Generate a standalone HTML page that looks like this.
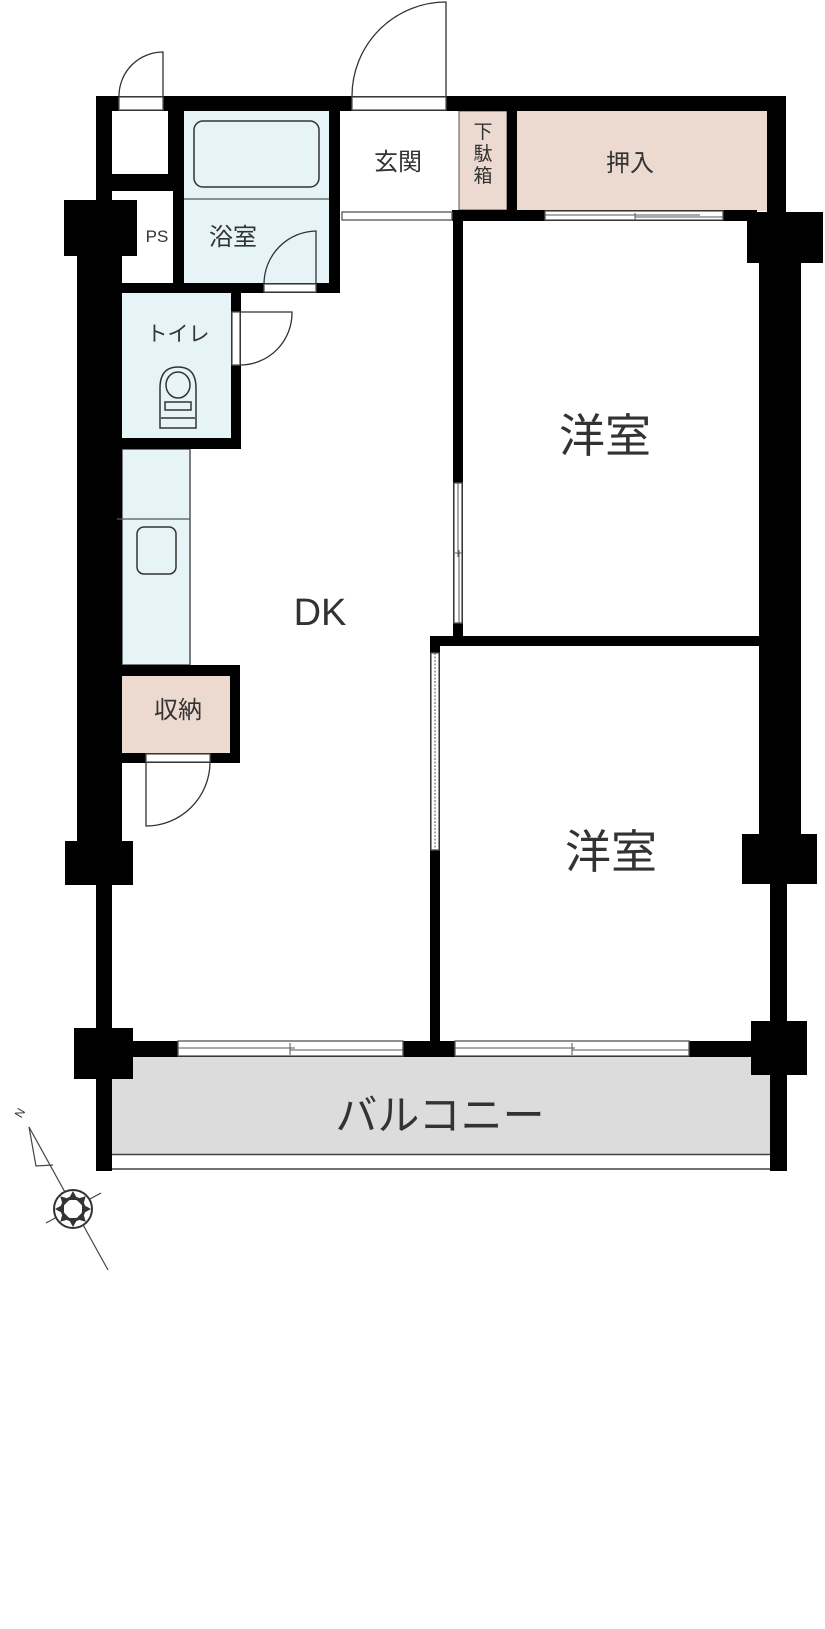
<!DOCTYPE html>
<html><head><meta charset="utf-8"><style>
html,body{margin:0;padding:0;background:#fff}
svg{display:block}
text{font-family:"Liberation Sans","Noto Sans CJK JP",sans-serif;fill:#333}
</style></head><body>
<svg width="825" height="1629" viewBox="0 0 825 1629" xmlns="http://www.w3.org/2000/svg">
<rect x="184" y="111" width="145" height="172" fill="#e6f4f8"/>
<rect x="122" y="293" width="109" height="145" fill="#e6f4f8"/>
<rect x="122" y="449" width="68" height="216" fill="#e6f4f8" stroke="#555" stroke-width="1.5"/>
<rect x="459" y="111" width="48" height="99" fill="#ecd9cf" stroke="#555" stroke-width="1"/>
<rect x="517" y="111" width="253" height="100" fill="#ecd9cf"/>
<rect x="122" y="676" width="108" height="77" fill="#ecd9cf"/>
<rect x="112" y="1057" width="658" height="97" fill="#dcdcdc"/>
<line x1="112" y1="1154.5" x2="770" y2="1154.5" stroke="#444" stroke-width="1.5"/>
<line x1="112" y1="1169" x2="770" y2="1169" stroke="#444" stroke-width="1.5"/>

<g fill="#000">
<rect x="96" y="96" width="690" height="15"/>
<rect x="767" y="96" width="19" height="116"/>
<rect x="96" y="96" width="16" height="160"/>
<rect x="112" y="174" width="61" height="17"/>
<rect x="168" y="111" width="16" height="80"/>
<rect x="173" y="111" width="11" height="182"/>
<rect x="64" y="200" width="73" height="56"/>
<rect x="77" y="256" width="45" height="585"/>
<rect x="112" y="283" width="228" height="10"/>
<rect x="329" y="111" width="11" height="182"/>
<rect x="231" y="283" width="10" height="166"/>
<rect x="122" y="438" width="119" height="11"/>
<rect x="122" y="665" width="118" height="11"/>
<rect x="230" y="665" width="10" height="98"/>
<rect x="122" y="753" width="118" height="10"/>
<rect x="65" y="841" width="68" height="44"/>
<rect x="96" y="885" width="16" height="286"/>
<rect x="74" y="1028" width="59" height="51"/>
<rect x="507" y="111" width="10" height="110"/>
<rect x="452" y="210" width="305" height="11"/>
<rect x="453" y="210" width="10" height="426"/>
<rect x="430" y="636" width="329" height="10"/>
<rect x="430" y="636" width="10" height="405"/>
<rect x="747" y="212" width="76" height="51"/>
<rect x="759" y="263" width="42" height="571"/>
<rect x="742" y="834" width="75" height="50"/>
<rect x="770" y="884" width="17" height="287"/>
<rect x="751" y="1021" width="56" height="54"/>
<rect x="96" y="1041" width="674" height="16"/>
</g>

<g fill="#fff" stroke="#555" stroke-width="1.3">
<rect x="119" y="97" width="44" height="13"/>
<rect x="352" y="97" width="94" height="13"/>
<rect x="264" y="284" width="52" height="8"/>
<rect x="342" y="212" width="110" height="8"/>
<rect x="232" y="312" width="8" height="53"/>
<rect x="146" y="754" width="64" height="8"/>
<rect x="545" y="211" width="178" height="9"/>
<rect x="454" y="483" width="8" height="140"/>
<rect x="431" y="653" width="8" height="197"/>
<rect x="178" y="1041" width="225" height="15"/>
<rect x="455" y="1041" width="234" height="15"/>
</g>
<g stroke="#555" stroke-width="1" fill="none">
<line x1="545" y1="215" x2="700" y2="215"/><line x1="635" y1="217" x2="723" y2="217"/><line x1="635" y1="213" x2="635" y2="220"/>
<line x1="458" y1="483" x2="458" y2="557"/><line x1="459" y1="550" x2="459" y2="623"/><line x1="455" y1="553" x2="462" y2="553"/>
<line x1="435" y1="653" x2="435" y2="850" stroke-dasharray="2,1.5"/>
<line x1="178" y1="1048" x2="295" y2="1048"/><line x1="290" y1="1050" x2="403" y2="1050"/><line x1="290" y1="1043" x2="290" y2="1055"/>
<line x1="455" y1="1048" x2="575" y2="1048"/><line x1="572" y1="1050" x2="689" y2="1050"/><line x1="572" y1="1043" x2="572" y2="1055"/>
</g>

<g stroke="#333" stroke-width="1.3" fill="none">
<path d="M163 96 V52 A44 44 0 0 0 119 96"/>
<path d="M446 96 V2 A94 94 0 0 0 352 96"/>
<path d="M316 284 V231 A53 53 0 0 0 264 284"/>
<path d="M240 312 H292 A52 52 0 0 1 240 365"/>
<path d="M146 763 V826 A64 64 0 0 0 210 763"/>
</g>

<rect x="194" y="121" width="125" height="66" rx="9" fill="none" stroke="#333" stroke-width="1.5"/>
<line x1="184" y1="199" x2="329" y2="199" stroke="#555" stroke-width="1.2"/>
<line x1="117" y1="519" x2="190" y2="519" stroke="#555" stroke-width="1.2"/>
<rect x="137" y="527" width="39" height="47" rx="7" fill="none" stroke="#333" stroke-width="1.5"/>
<g fill="none" stroke="#333" stroke-width="1.5">
<path d="M160 428 V388 Q160 367 178 367 Q196 367 196 388 V428 Z"/>
<ellipse cx="178" cy="385" rx="12" ry="13"/>
<rect x="165" y="402" width="26" height="8"/>
<line x1="161" y1="418" x2="195" y2="418"/>
</g>

<text x="398" y="170" font-size="24" text-anchor="middle">玄関</text>
<text x="233" y="245" font-size="24" text-anchor="middle">浴室</text>
<text x="157" y="242" font-size="17" text-anchor="middle">PS</text>
<text x="178" y="341" font-size="21" text-anchor="middle">トイレ</text>
<text x="483" y="138" font-size="19" text-anchor="middle">下</text>
<text x="483" y="160" font-size="19" text-anchor="middle">駄</text>
<text x="483" y="182" font-size="19" text-anchor="middle">箱</text>
<text x="630" y="171" font-size="24" text-anchor="middle">押入</text>
<text x="178" y="718" font-size="24" text-anchor="middle">収納</text>
<text x="320" y="625" font-size="38" text-anchor="middle">DK</text>
<text x="605" y="452" font-size="46" text-anchor="middle">洋室</text>
<text x="611" y="868" font-size="46" text-anchor="middle">洋室</text>
<text x="440" y="1130" font-size="42" text-anchor="middle">バルコニー</text>

<g stroke="#444" stroke-width="1.2" fill="none">
<line x1="29" y1="1127" x2="108" y2="1270"/>
<line x1="46" y1="1223" x2="101" y2="1193"/>
<path d="M29 1127 L36 1166 L53 1165"/>
</g>
<text x="20" y="1117" font-size="12" text-anchor="middle" transform="rotate(-60 20 1113)">N</text>
<circle cx="73" cy="1209" r="19" fill="#fff" stroke="#333" stroke-width="2"/>
<g fill="#333">
<path d="M73 1191 L78 1200 L68 1200 Z"/>
<path d="M73 1191 L78 1200 L68 1200 Z" transform="rotate(45 73 1209)"/>
<path d="M73 1191 L78 1200 L68 1200 Z" transform="rotate(90 73 1209)"/>
<path d="M73 1191 L78 1200 L68 1200 Z" transform="rotate(135 73 1209)"/>
<path d="M73 1191 L78 1200 L68 1200 Z" transform="rotate(180 73 1209)"/>
<path d="M73 1191 L78 1200 L68 1200 Z" transform="rotate(225 73 1209)"/>
<path d="M73 1191 L78 1200 L68 1200 Z" transform="rotate(270 73 1209)"/>
<path d="M73 1191 L78 1200 L68 1200 Z" transform="rotate(315 73 1209)"/>
</g>
<circle cx="73" cy="1209" r="11" fill="none" stroke="#333" stroke-width="3"/>
<circle cx="73" cy="1209" r="8" fill="#fff"/>
</svg>
</body></html>
